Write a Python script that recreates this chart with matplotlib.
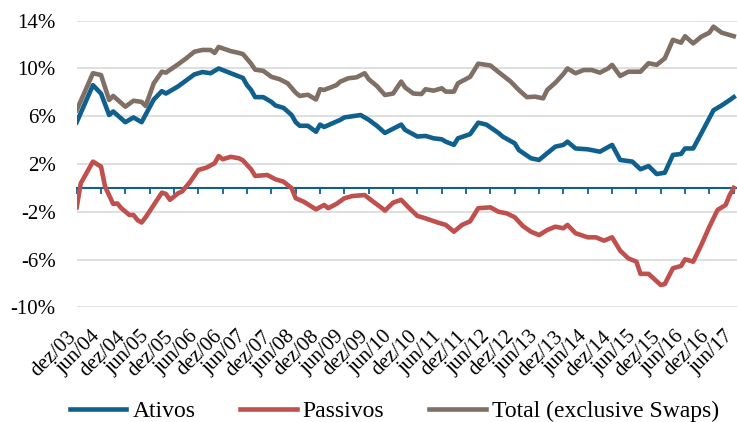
import numpy as np
import matplotlib
matplotlib.use("Agg")
import matplotlib.pyplot as plt

# meses contados a partir de dez/03 (0 = dez/03, 162 = jun/17), valores em %
meses_ativos = [0, 4, 6, 8, 9, 12, 14, 16, 19, 21, 22, 25, 27, 29, 31, 33, 35, 38, 41, 42,
                43, 44, 46, 48, 49, 51, 53, 54, 55, 57, 59, 60, 61, 63, 65, 66, 68, 70, 72, 74,
                76, 80, 81, 84, 86, 88, 90, 91, 93, 94, 97, 99, 101, 104, 105, 108, 109, 112, 114, 116,
                118, 120, 121, 123, 126, 129, 132, 134, 137, 139, 141, 143, 145, 147, 149, 150, 152, 154, 157, 159,
                161, 162]
ativos = [5.5, 8.6, 7.9, 6.1, 6.4, 5.5, 5.9, 5.5, 7.4, 8.1, 7.9, 8.5, 9.0, 9.5, 9.7, 9.6, 10.0, 9.6, 9.2, 8.6,
          8.2, 7.6, 7.6, 7.2, 6.9, 6.7, 6.1, 5.5, 5.2, 5.2, 4.7, 5.3, 5.1, 5.4, 5.7, 5.9, 6.0, 6.1, 5.7, 5.2,
          4.6, 5.3, 4.85, 4.3, 4.35, 4.15, 4.07, 3.87, 3.6, 4.15, 4.5, 5.46, 5.3, 4.6, 4.3, 3.73, 3.17, 2.48, 2.34, 2.9,
          3.45, 3.6, 3.87, 3.3, 3.23, 3.03, 3.6, 2.34, 2.2, 1.56, 1.83, 1.16, 1.27, 2.76, 2.84, 3.3, 3.3, 4.57, 6.5, 6.9,
          7.36, 7.6]

meses_passivos = [0, 1, 4, 6, 7, 9, 10, 11, 13, 14, 15, 16, 17, 19, 21, 22, 23, 25, 26, 28,
                  30, 32, 34, 35, 36, 38, 40, 41, 42, 43, 44, 47, 49, 51, 53, 54, 56, 59, 61, 62,
                  64, 66, 68, 71, 72, 75, 76, 78, 80, 82, 84, 86, 89, 91, 93, 95, 97, 99, 102, 104,
                  106, 108, 110, 112, 114, 116, 118, 120, 121, 123, 126, 128, 130, 132, 134, 136, 138, 139, 141, 144,
                  145, 147, 149, 150, 152, 154, 156, 158, 160, 161, 162]
passivos = [-1.63, 0.38, 2.2, 1.78, 0.1, -1.35, -1.3, -1.7, -2.27, -2.27, -2.7, -2.9, -2.46, -1.43, -0.4, -0.51, -1.0, -0.45, -0.3, 0.52,
            1.5, 1.7, 2.06, 2.67, 2.4, 2.6, 2.48, 2.3, 1.92, 1.56, 1.0, 1.08, 0.72, 0.52, -0.03, -0.87, -1.16, -1.8, -1.43, -1.7,
            -1.35, -0.87, -0.68, -0.6, -0.87, -1.63, -1.9, -1.24, -1.0, -1.7, -2.35, -2.55, -2.9, -3.1, -3.67, -3.1, -2.8, -1.7, -1.63, -2.0,
            -2.13, -2.46, -3.19, -3.67, -3.95, -3.53, -3.25, -3.38, -3.1, -3.8, -4.14, -4.14, -4.42, -4.14, -5.26, -5.9, -6.18, -7.2, -7.2, -8.13,
            -8.05, -6.73, -6.54, -5.98, -6.18, -4.78, -3.25, -1.85, -1.43, -0.6, 0.0]

meses_total = [0, 4, 6, 8, 9, 12, 14, 16, 17, 19, 21, 22, 25, 27, 29, 31, 33, 34, 35, 38,
               40, 41, 43, 44, 46, 48, 50, 52, 54, 55, 57, 59, 60, 61, 64, 65, 67, 69, 71, 72,
               74, 76, 78, 80, 81, 83, 85, 86, 88, 90, 91, 93, 94, 97, 99, 102, 104, 107, 109, 111,
               113, 115, 116, 118, 120, 121, 123, 125, 127, 129, 131, 132, 134, 136, 139, 141, 143, 145, 147, 149,
               150, 152, 154, 156, 157, 159, 162]
total = [6.5, 9.6, 9.45, 7.36, 7.7, 6.8, 7.3, 7.2, 6.86, 8.76, 9.73, 9.65, 10.35, 10.85, 11.4, 11.55, 11.55, 11.3, 11.8, 11.45,
         11.3, 11.2, 10.4, 9.9, 9.8, 9.3, 9.1, 8.76, 7.97, 7.7, 7.8, 7.4, 8.26, 8.2, 8.6, 8.9, 9.18, 9.26, 9.6, 9.1,
         8.53, 7.78, 7.9, 8.9, 8.4, 7.9, 7.86, 8.26, 8.14, 8.34, 8.06, 8.06, 8.76, 9.3, 10.4, 10.25, 9.7, 8.9, 8.2, 7.6,
         7.64, 7.5, 8.2, 8.8, 9.54, 10.0, 9.6, 9.87, 9.87, 9.65, 10.0, 10.3, 9.37, 9.73, 9.73, 10.44, 10.3, 10.85, 12.4, 12.16,
         12.7, 12.1, 12.66, 13.0, 13.5, 13.0, 12.7]

rotulos_x = ['dez/03', 'jun/04', 'dez/04', 'jun/05', 'dez/05', 'jun/06', 'dez/06',
             'jun/07', 'dez/07', 'jun/08', 'dez/08', 'jun/09', 'dez/09', 'jun/10',
             'dez/10', 'jun/11', 'dez/11', 'jun/12', 'dez/12', 'jun/13', 'dez/13',
             'jun/14', 'dez/14', 'jun/15', 'dez/15', 'jun/16', 'dez/16', 'jun/17']
ticks_y = [-10, -6, -2, 2, 6, 10, 14]

azul = '#10608E'
vermelho = '#C0504D'
cinza = '#7F6F65'

plt.rcParams['font.family'] = ['Liberation Serif', 'DejaVu Serif']

fig = plt.figure(figsize=(7.37, 4.22), dpi=100)
ax = fig.add_axes([76.7 / 737, 1 - 307.3 / 422, (737 - 76.7) / 737, (307.3 - 20.7) / 422])

ax.plot(meses_ativos, ativos, color=azul, lw=3.3, label='Ativos', zorder=3, solid_joinstyle='round')
ax.plot(meses_passivos, passivos, color=vermelho, lw=3.3, label='Passivos', zorder=3, solid_joinstyle='round')
ax.plot(meses_total, total, color=cinza, lw=3.3, label='Total (exclusive Swaps)', zorder=3,
        solid_joinstyle='round')

ax.set_xlim(0, 162.8)
ax.set_ylim(-10, 14)
ax.set_yticks(ticks_y)
ax.set_yticklabels([f'{v}%' for v in ticks_y])
ax.grid(axis='y', color='#D9D9D9', lw=1.2, zorder=0)
ax.set_axisbelow(True)
for s in ax.spines.values():
    s.set_visible(False)

pos_ticks = np.arange(0, 163, 6)
ax.set_xticks(pos_ticks)
ax.set_xticklabels(rotulos_x, rotation=45, ha='right', va='baseline', rotation_mode='anchor')
ax.tick_params(axis='x', length=0, pad=21.5, labelsize=15)
ax.tick_params(axis='y', length=0, pad=15, labelsize=15)

# eixo horizontal no zero
eixo0 = ax.secondary_xaxis(10 / 24)
eixo0.set_xticks(pos_ticks)
eixo0.tick_params(axis='x', direction='out', length=4, width=1.3, color=azul, labelbottom=False)
eixo0.spines['bottom'].set_color(azul)
eixo0.spines['bottom'].set_linewidth(1.5)
eixo0.set_zorder(1)

fig.legend(loc='center', bbox_to_anchor=(0.535, 1 - 411 / 422), ncol=3, frameon=False,
           fontsize=17, handlelength=2.4, handletextpad=0.25, columnspacing=1.9)

fig.savefig('out.png', dpi=100)
